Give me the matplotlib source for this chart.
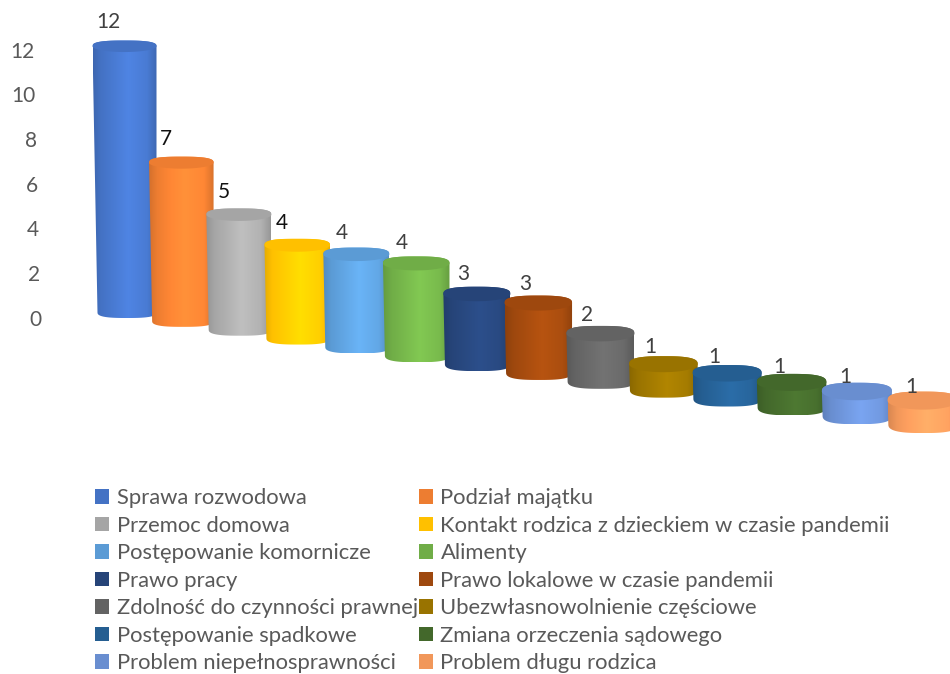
import numpy as np
import matplotlib
matplotlib.use("Agg")
import matplotlib.pyplot as plt
from matplotlib.patches import Patch, PathPatch, Polygon
from matplotlib.path import Path
from matplotlib.colors import to_rgb

plt.rcParams['font.family'] = ['Lato', 'DejaVu Sans']

categories = ["Sprawa rozwodowa", "Podział majątku", "Przemoc domowa",
              "Kontakt rodzica z dzieckiem w czasie pandemii",
              "Postępowanie komornicze", "Alimenty", "Prawo pracy",
              "Prawo lokalowe w czasie pandemii",
              "Zdolność do czynności prawnej", "Ubezwłasnowolnienie częściowe",
              "Postępowanie spadkowe", "Zmiana orzeczenia sądowego",
              "Problem niepełnosprawności", "Problem długu rodzica"]
values = [12, 7, 5, 4, 4, 4, 3, 3, 2, 1, 1, 1, 1, 1]
colors = ["#4472C4", "#ED7D31", "#A5A5A5", "#FFC000", "#5B9BD5", "#70AD47",
          "#264478", "#9E480E", "#636363", "#997300", "#255E91", "#43682B",
          "#698ED0", "#F1975A"]
label_colors = ["#404040", "#111111", "#111111", "#111111"] + ["#404040"] * 10
yticks = [0, 2, 4, 6, 8, 10, 12]

W, H = 950, 674
PX_X = 58.0    # pixels per category
PX_Y = 22.35   # pixels per value unit
X0, Y0 = 124.5, 318.0   # where category 0 / value 0 sit

fig = plt.figure(figsize=(W / 100, H / 100), dpi=100)
ax = fig.add_axes([0, 0, 1, 1])


def shade(col, f):
    return np.clip(np.array(to_rgb(col)) * f, 0, 1)


def squarish(t, p=0.72):
    # ellipse with slightly squared shoulders, like the reference outline
    return np.sign(np.cos(t)) * np.abs(np.cos(t)) ** p, np.sign(np.sin(t)) * np.abs(np.sin(t)) ** p


def cylinder(i, v, col):
    # fake 3d: the floor drops and the columns spread out to the right
    cx = i * 0.973 + 0.0066 * i * i
    floor = -0.396 * i
    height = 0.96 * v + 0.895
    top = floor + height
    w = (64 + 0.5 * i) / PX_X
    cap = (11.5 + 0.5 * i) / PX_Y
    inset = 0.018 * height * PX_Y / PX_X

    t = np.linspace(np.pi, 0, 60)
    left, right = cx - w / 2, cx + w / 2
    ux, uy = squarish(t)
    tx = cx + ux * w / 2
    ty = top - cap / 2 + uy * cap / 2
    bw = w - inset
    bcx = right - bw / 2
    bx = bcx + ux[::-1] * bw / 2
    by = floor + cap / 2 - uy[::-1] * cap / 2
    verts = np.vstack([np.column_stack([tx, ty]), np.column_stack([bx, by]), [[tx[0], ty[0]]]])
    body = PathPatch(Path(verts, closed=True), fc='none', ec='none', zorder=3 + i)
    ax.add_patch(body)

    # side shading, dark at the edges and brightest right of the middle
    stops = [0.0, 0.12, 0.55, 0.85, 1.0]
    factors = [0.9, 1.0, 1.16, 1.08, 0.92]
    grad = np.interp(np.linspace(0, 1, 64), stops, factors)
    img = np.array([[shade(col, f) for f in grad]])
    im = ax.imshow(img, extent=[left, right, floor, top], aspect='auto',
                   interpolation='bilinear', zorder=3 + i)
    im.set_clip_path(body)

    # flat lid: upper outline plus a plain lower half ellipse
    s = np.linspace(0, -np.pi, 60)
    lid_x = np.concatenate([tx, cx + np.cos(s) * w / 2])
    lid_y = np.concatenate([ty, top - cap / 2 + np.sin(s) * cap / 2])
    ax.add_patch(Polygon(np.column_stack([lid_x, lid_y]), fc=shade(col, 1.0), ec='none', zorder=3 + i))
    return cx, top


for i, (v, col) in enumerate(zip(values, colors)):
    cx, top = cylinder(i, v, col)
    ax.text(cx + (-16 + 0.35 * i) / PX_X, top + 0.85 - 0.048 * i, str(v), ha='center', va='center',
            fontsize=15, color=label_colors[i], zorder=30)

# value labels, the axis leans with the view
for t in yticks:
    ax.text((41.5 - 0.55 * t - X0) / PX_X, t - 0.08, str(t), ha='right', va='center',
            fontsize=15, color='#595959')

ax.set_xlim(-X0 / PX_X, (W - X0) / PX_X)
ax.set_ylim((Y0 - H) / PX_Y, Y0 / PX_Y)
ax.axis('off')

# legend is read row by row in the reference, matplotlib fills by column
handles = [Patch(fc=c, ec='none') for c in colors]
order = list(range(0, 14, 2)) + list(range(1, 14, 2))
ax.legend([handles[k] for k in order], [categories[k] for k in order],
          ncols=2, loc='upper left', bbox_to_anchor=(95 / W, 1 - 488 / H),
          bbox_transform=fig.transFigure, frameon=False, fontsize=15.8,
          labelcolor='#595959', handlelength=0.64, handleheight=0.64,
          handletextpad=0.36, labelspacing=0.345, columnspacing=0.02,
          borderpad=0, borderaxespad=0)

fig.savefig("out.png", dpi=100)
